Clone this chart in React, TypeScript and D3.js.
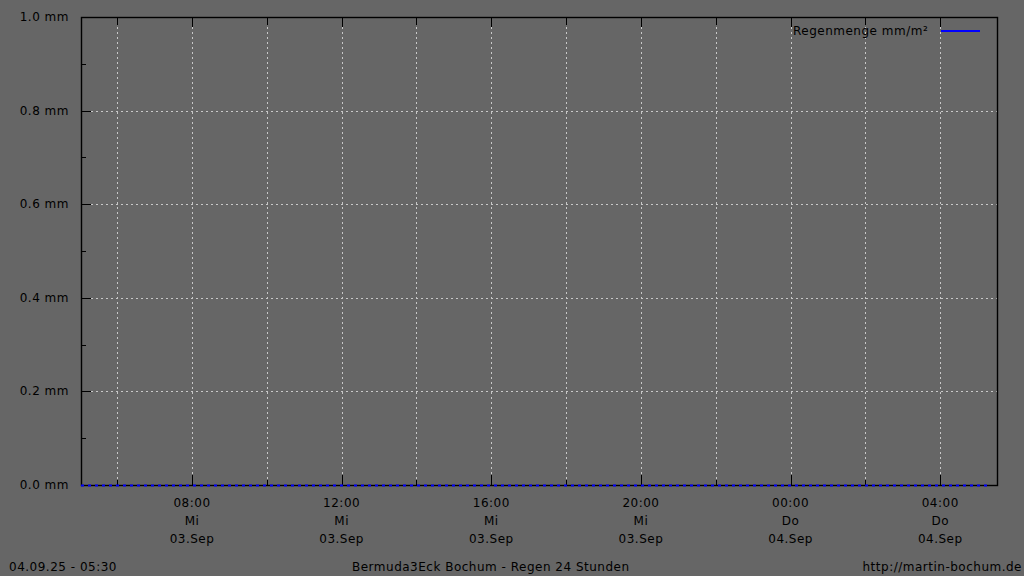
import * as d3 from "d3";

// rain data (mm) - flat zero over the whole day
const rainTimes = [
    new Date(2025, 8, 3, 5, 2),
    new Date(2025, 8, 3, 12, 0),
    new Date(2025, 8, 3, 20, 0),
    new Date(2025, 8, 4, 5, 15),
];
const rainValues = [0, 0, 0, 0];

const yTicks = [0, 0.2, 0.4, 0.6, 0.8, 1.0];
const yMinorTicks = [0.1, 0.3, 0.5, 0.7, 0.9];

const xMajorTimes = [
    new Date(2025, 8, 3, 8),
    new Date(2025, 8, 3, 12),
    new Date(2025, 8, 3, 16),
    new Date(2025, 8, 3, 20),
    new Date(2025, 8, 4, 0),
    new Date(2025, 8, 4, 4),
];
const xHourLabels = ["08:00", "12:00", "16:00", "20:00", "00:00", "04:00"];
const xDayLabels = ["Mi", "Mi", "Mi", "Mi", "Do", "Do"];
const xDateLabels = ["03.Sep", "03.Sep", "03.Sep", "03.Sep", "04.Sep", "04.Sep"];
const xMinorTimes = [
    new Date(2025, 8, 3, 6),
    new Date(2025, 8, 3, 10),
    new Date(2025, 8, 3, 14),
    new Date(2025, 8, 3, 18),
    new Date(2025, 8, 3, 22),
    new Date(2025, 8, 4, 2),
];

const legendLabel = "Regenmenge mm/m²";
const title = "Bermuda3Eck Bochum - Regen 24 Stunden";
const stamp = "04.09.25 - 05:30";
const site = "http://martin-bochum.de";

const W = 1024;
const H = 576;
const left = 81;
const right = 997;
const top = 17;
const bottom = 485;

const font = "'DejaVu Sans', sans-serif";
const gridColor = "#c8c8c8";

export default function App() {
    const x = d3.scaleTime()
        .domain([new Date(2025, 8, 3, 5, 2), new Date(2025, 8, 4, 5, 31)])
        .range([left, right]);
    const y = d3.scaleLinear().domain([0, 1]).range([bottom, top]);

    const pts = rainTimes.map((t, i) => [t, rainValues[i]] as [Date, number]);
    const line = d3.line<[Date, number]>()
        .x((d) => x(d[0]))
        .y((d) => y(d[1]));

    const px = (v: number) => Math.round(v) + 0.5;
    const textStyle = { fontFamily: font, fontSize: 12, letterSpacing: 0.5, fill: "#000" };

    return (
        <svg
            width={W}
            height={H}
            style={{ position: "absolute", left: 0, top: 0, background: "#666666" }}
        >
            <rect x={0} y={0} width={W} height={H} fill="#666666" />

            {/* grid */}
            {[...xMinorTimes, ...xMajorTimes].map((t, i) => (
                <line
                    key={"vg" + i}
                    x1={px(x(t))}
                    x2={px(x(t))}
                    y1={top}
                    y2={bottom}
                    stroke={gridColor}
                    strokeDasharray="2,3"
                />
            ))}
            {yTicks.filter((v) => v > 0 && v < 1).map((v) => (
                <line
                    key={"hg" + v}
                    x1={left}
                    x2={right}
                    y1={px(y(v))}
                    y2={px(y(v))}
                    stroke={gridColor}
                    strokeDasharray="2,3"
                />
            ))}

            {/* ticks */}
            {yTicks.map((v) => (
                <line key={"yt" + v} x1={left} x2={left + 10} y1={px(y(v))} y2={px(y(v))} stroke="#000" />
            ))}
            {yMinorTicks.map((v) => (
                <line key={"ym" + v} x1={left} x2={left + 5} y1={px(y(v))} y2={px(y(v))} stroke="#000" />
            ))}
            {xMajorTimes.map((t, i) => (
                <g key={"xt" + i}>
                    <line x1={px(x(t))} x2={px(x(t))} y1={bottom} y2={bottom - 10} stroke="#000" />
                    <line x1={px(x(t))} x2={px(x(t))} y1={top} y2={top + 10} stroke="#000" />
                </g>
            ))}
            {xMinorTimes.map((t, i) => (
                <g key={"xm" + i}>
                    <line x1={px(x(t))} x2={px(x(t))} y1={bottom} y2={bottom - 5} stroke="#000" />
                    <line x1={px(x(t))} x2={px(x(t))} y1={top} y2={top + 8} stroke="#000" />
                </g>
            ))}

            {/* frame */}
            <rect
                x={left + 0.5}
                y={top + 0.5}
                width={right - left}
                height={bottom - top}
                fill="none"
                stroke="#000"
                strokeWidth={1.4}
            />

            {/* data */}
            <path
                d={line(pts) ?? ""}
                fill="none"
                stroke="#0000ff"
                strokeWidth={2}
                strokeDasharray="3,4"
                transform="translate(0,0.5)"
            />

            {/* y labels */}
            {yTicks.map((v) => (
                <text
                    key={"yl" + v}
                    x={69}
                    y={y(v)}
                    textAnchor="end"
                    dominantBaseline="central"
                    style={textStyle}
                >
                    {v.toFixed(1) + " mm"}
                </text>
            ))}

            {/* x labels */}
            {xMajorTimes.map((t, i) => (
                <g key={"xl" + i} style={textStyle}>
                    <text x={x(t)} y={503} textAnchor="middle" dominantBaseline="central">
                        {xHourLabels[i]}
                    </text>
                    <text x={x(t)} y={521} textAnchor="middle" dominantBaseline="central">
                        {xDayLabels[i]}
                    </text>
                    <text x={x(t)} y={539} textAnchor="middle" dominantBaseline="central">
                        {xDateLabels[i]}
                    </text>
                </g>
            ))}

            {/* legend */}
            <text x={793} y={31} dominantBaseline="central" style={textStyle}>
                {legendLabel}
            </text>
            <line x1={941} x2={980} y1={31} y2={31} stroke="#0000ff" strokeWidth={2} />

            {/* footer */}
            <text x={9} y={567} dominantBaseline="central" style={textStyle}>
                {stamp}
            </text>
            <text x={352} y={567} dominantBaseline="central" style={textStyle}>
                {title}
            </text>
            <text x={1022} y={567} textAnchor="end" dominantBaseline="central" style={textStyle}>
                {site}
            </text>
        </svg>
    );
}
